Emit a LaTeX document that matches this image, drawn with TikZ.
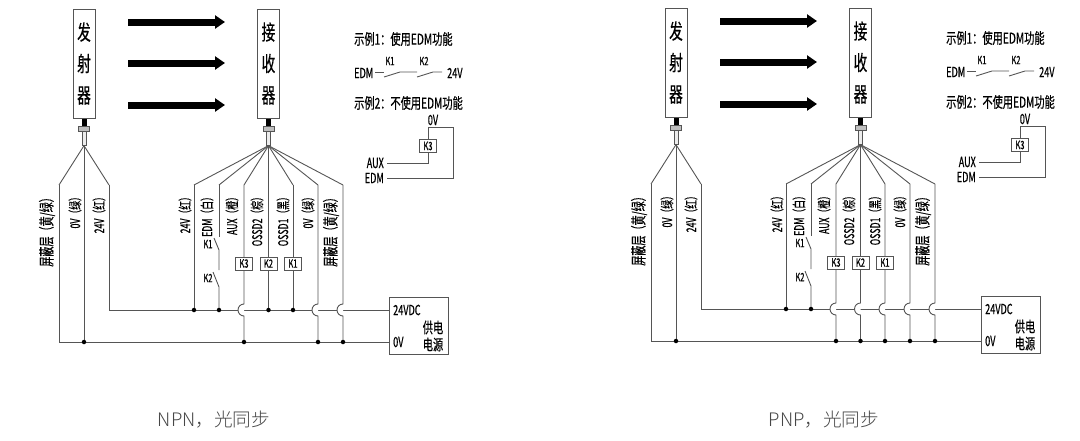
\documentclass[tikz,border=0pt]{standalone}
\usepackage{fontspec}
\setmainfont{Noto Sans CJK SC}
\newfontfamily\draftfont[FakeStretch=0.65,FakeBold=0.5]{Noto Sans CJK SC}
\newfontfamily\draftwide[FakeStretch=0.68,FakeBold=0.5]{Noto Sans CJK SC}
\newfontfamily\captionfont{Noto Sans CJK SC Light}
\usetikzlibrary{arrows.meta}
\usetikzlibrary{positioning}
\definecolor{wiregray}{RGB}{85,85,85}
\definecolor{captiongray}{RGB}{70,70,70}
\tikzset{
  wire/.style={draw=wiregray, line width=0.9pt},
  joint/.style={circle, fill=black, inner sep=0pt, minimum size=4.5pt},
  beam/.style={line width=7pt, -{Triangle[length=10pt,width=13pt]}},
  sensorbar/.style={draw=wiregray, line width=0.9pt, minimum width=22pt, minimum height=109pt,
    inner sep=0pt, align=center, font=\draftfont\fontsize{21}{31.5}\selectfont},
  plugneck/.style={fill=black, inner sep=0pt, minimum width=5pt, minimum height=7pt},
  plugcollar/.style={draw=wiregray, fill=gray!50, inner sep=0pt, minimum width=11pt, minimum height=5pt},
  plugtail/.style={draw=wiregray, fill=gray!15, inner sep=0pt, minimum width=4pt, minimum height=14pt},
  wirelabel/.style={rotate=90, anchor=east, inner sep=0pt, font=\draftfont\fontsize{13.5}{13.5}\selectfont},
  longlabel/.style={wirelabel, font=\draftfont\fontsize{15.5}{15.5}\selectfont},
  relay/.style={draw=wiregray, fill=white, line width=0.9pt, minimum width=17pt, minimum height=13pt,
    inner sep=0pt, font=\draftfont\fontsize{11.5}{11.5}\selectfont},
  small/.style={inner sep=0pt, font=\draftfont\fontsize{11.5}{11.5}\selectfont},
  tag/.style={inner sep=0pt, font=\draftfont\fontsize{14}{14}\selectfont},
  title/.style={inner sep=0pt, anchor=west, font=\draftwide\fontsize{15}{15}\selectfont},
  supply/.style={draw=wiregray, line width=0.9pt, minimum width=59pt, minimum height=57pt, inner sep=0pt},
  supplyname/.style={inner sep=0pt, align=center, font=\draftwide\fontsize{15}{17}\selectfont},
  caption/.style={inner sep=0pt, text=captiongray, font=\captionfont\fontsize{18.6}{18.6}\selectfont}
}

\begin{document}
\begin{tikzpicture}[x=1pt,y=-1pt]
  \useasboundingbox (0,0) rectangle (1080,440);

  \foreach \pre/\dx/\dy/\jumps/\tied in {l/0/0/{c,f,g}/{a,d,e}, r/592/-1/{c,d,e,f,g}/{a}} {
  \begin{scope}[shift={(\dx,\dy)}]
    % sensors:
    \node [sensorbar] (\pre tx) at (84,63.5) {发\\射\\器};
    \node [sensorbar] (\pre rx) at (268.5,63.5) {接\\收\\器};
    \foreach \bar in {tx,rx} {
      \node [plugneck, below=0pt of \pre\bar] (\pre\bar neck) {};
      \node [plugcollar, below=0pt of \pre\bar neck] (\pre\bar collar) {};
      \node [plugtail, below=0pt of \pre\bar collar] (\pre\bar tail) {};
    }

    % light beams:
    \foreach \i/\y in {1/22,2/63,3/105} {
      \coordinate (\pre from\i) at (128,\y);
      \coordinate (\pre to\i) at (225,\y);
      \draw [beam] (\pre from\i) to (\pre to\i);
    }

    % rails and power supply:
    \node [supply] (\pre psu) at (418.5,325.5) {};
    \node [tag, anchor=west] (\pre psuhi) at (393,310) {24VDC};
    \node [tag, anchor=west] (\pre psulo) at (393,342) {0V};
    \node [supplyname] (\pre psuname) at (433,336) {供电\\电源};
    \coordinate (\pre left) at (59,185);
    \coordinate (\pre mid) at (84,185);
    \coordinate (\pre right) at (109,185);
    \coordinate (\pre rail) at (109,310);
    \coordinate (\pre low) at (59,342);
    \draw [wire] (\pre left) to (\pre low) to (\pre low -| \pre psu.west);
    \draw [wire] (\pre right) to (\pre rail) to (\pre rail -| \pre psu.west);
    \draw [wire] (\pre mid) to (\pre mid |- \pre low) node [joint] (\pre midjoint) {};
    \foreach \w in {left,mid,right} \draw [wire] (\pre txtail.south) to (\pre\w);

    % receiver wires:
    \foreach \w/\x in {a/194,b/219,c/244,d/268.5,e/293,f/318,g/343} {
      \coordinate (\pre\w) at (\x,185);
      \draw [wire] (\pre rxtail.south) to (\pre\w);
    }
    \foreach \w in \tied \draw [wire] (\pre\w) to (\pre\w |- \pre rail) node [joint] (\pre\w joint) {};
    \foreach \w in \jumps
      \draw [wire, fill=white] (\pre\w) to ([yshift=6pt]\pre\w |- \pre rail) arc [start angle=90, end angle=270, radius=6pt]
        to (\pre\w |- \pre low) node [joint] (\pre\w joint) {};
    \coordinate (\pre k1a) at (219,250);
    \coordinate (\pre k1b) at (219,270);
    \coordinate (\pre k2a) at (219,287);
    \draw [wire] (\pre b) to (219,237);
    \draw [wire] (214,238) to (\pre k1a) to (\pre k1b);
    \draw [wire] (213,272) to (\pre k2a) to (\pre k2a |- \pre rail) node [joint] (\pre bjoint) {};

    % relays and switch labels:
    \node [relay] (\pre K3) at (\pre c |- 0,263.5) {K3};
    \node [relay] (\pre K2) at (\pre d |- 0,263.5) {K2};
    \node [relay] (\pre K1) at (\pre e |- 0,263.5) {K1};
    \node [small] (\pre swa) at (208,244) {K1};
    \node [small] (\pre swb) at (208,278) {K2};

    % wire labels:
    \foreach \i/\x/\txt in {2/75/{0V（绿）},3/99/{24V（红）},4/185/{24V（红）},5/207/{EDM（白）},
      6/232/{AUX（橙）},7/257/{OSSD2（棕）},8/283/{OSSD1（黑）},9/308/{0V（绿）}}
      \node [wirelabel] (\pre lab\i) at (\x,192) {\txt};
    \node [longlabel] (\pre lab1) at (47,192) {屏蔽层（黄/绿）};
    \node [longlabel] (\pre lab10) at (331,192) {屏蔽层（黄/绿）};

    % EDM examples:
    \node [title] (\pre exa) at (354,39) {示例1：使用EDM功能};
    \node [tag, anchor=west] (\pre exaedm) at (354,73) {EDM};
    \node [tag, anchor=west] (\pre exav) at (447,73) {24V};
    \node [small] (\pre exak1) at (390,61) {K1};
    \node [small] (\pre exak2) at (424,61) {K2};
    \draw [wire] (375,72) to (384,72);
    \draw [wire] (384,77) to (400,72) to (417,72);
    \draw [wire] (417,77) to (433,72) to (442,72);
    \node [title] (\pre exb) at (354,103) {示例2：不使用EDM功能};
    \node [tag] (\pre exbv) at (433,120) {0V};
    \node [relay] (\pre exbk) at (428,146) {K3};
    \node [tag, anchor=east] (\pre exbaux) at (384,163) {AUX};
    \node [tag, anchor=east] (\pre exbedm) at (384,178) {EDM};
    \coordinate (\pre exbtop) at (428,127);
    \coordinate (\pre exbcorner) at (453,127);
    \draw [wire] (\pre exbk.north) to (\pre exbtop) to (\pre exbcorner) to (\pre exbcorner |- \pre exbedm) to ([xshift=3pt]\pre exbedm.east);
    \draw [wire] (\pre exbk.south) to (\pre exbk |- \pre exbaux) to ([xshift=3pt]\pre exbaux.east);
  \end{scope}
  }

  \node [caption] (npn) at (214,420) {NPN，光同步};
  \node [caption] (pnp) at (824,420) {PNP，光同步};
\end{tikzpicture}
\end{document}
